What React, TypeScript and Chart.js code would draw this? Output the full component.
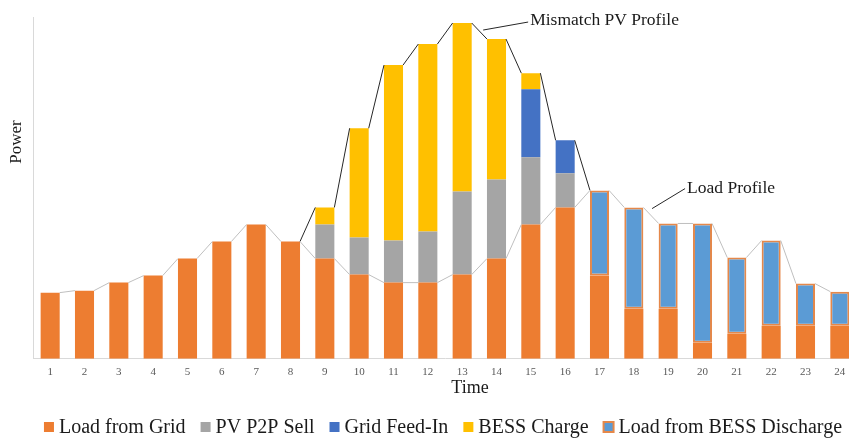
import React, { useEffect, useRef } from "react";
import { Chart, registerables } from "chart.js";

Chart.register(...registerables);

// ---------- data ----------
const categories = ["1","2","3","4","5","6","7","8","9","10","11","12","13","14","15","16","17","18","19","20","21","22","23","24"];

const loadFromGrid = [66, 68, 76, 83, 100, 117, 134, 117, 100, 84, 76, 76, 84, 100, 134, 151, 83, 50, 50, 16, 25, 33, 33, 33];
const pvP2PSell = [0, 0, 0, 0, 0, 0, 0, 0, 34, 37, 42, 51, 83, 79, 67, 34, 0, 0, 0, 0, 0, 0, 0, 0];
const gridFeedIn = [0, 0, 0, 0, 0, 0, 0, 0, 0, 0, 0, 0, 0, 0, 68, 33, 0, 0, 0, 0, 0, 0, 0, 0];
const bessCharge = [0, 0, 0, 0, 0, 0, 0, 0, 17, 109, 175, 187, 168, 140, 16, 0, 0, 0, 0, 0, 0, 0, 0, 0];
const loadFromBessDischarge = [0, 0, 0, 0, 0, 0, 0, 0, 0, 0, 0, 0, 0, 0, 0, 0, 85, 101, 85, 119, 76, 85, 42, 34];

const loadProfile = [66, 68, 76, 83, 100, 117, 134, 117, 100, 84, 76, 76, 84, 100, 134, 151, 168, 151, 135, 135, 101, 118, 75, 67];
const mismatchPvProfile = [null, null, null, null, null, null, null, 117, 151, 230, 293, 314, 335, 319, 285, 218, 168, null, null, null, null, null, null, null];

const seriesNames = ["Load from Grid", "PV P2P Sell", "Grid Feed-In", "BESS Charge", "Load from BESS Discharge"];
const xTitle = "Time";
const yTitle = "Power";
const pvLabel = "Mismatch PV Profile";
const loadLabel = "Load Profile";
const yMax = 341;

// ---------- styles ----------
const COLORS = {
  grid: "#ED7D31",
  sell: "#A5A5A5",
  feed: "#4472C4",
  charge: "#FFC000",
  discharge: "#5B9BD5",
  dischargeBorder: "#E5884A",
};
const BAR_PCT = 0.555;
const SERIF = "'Liberation Serif', 'Times New Roman', serif";

const nz = (arr: number[]) => arr.map((v) => (v === 0 ? null : v));

// Excel-like series lines: connect the right edge of bar i to the left edge of bar i+1
function seriesLinePoints(values: (number | null)[]) {
  const h = BAR_PCT / 2;
  const pts: { x: number; y: number | null }[] = [];
  values.forEach((v, i) => {
    if (v == null) return;
    const prev = i > 0 ? values[i - 1] : null;
    const next = i < values.length - 1 ? values[i + 1] : null;
    if (prev != null) pts.push({ x: i - h, y: v });
    pts.push({ x: i, y: null });
    if (next != null) pts.push({ x: i + h, y: v });
  });
  return pts;
}

const overlayPlugin = {
  id: "overlayText",
  afterDraw(chart: any) {
    const ctx = chart.ctx;
    const xl = chart.scales.xl;
    const y = chart.scales.y;
    const h = BAR_PCT / 2;
    ctx.save();

    // y axis title
    ctx.fillStyle = "#1a1a1a";
    ctx.font = `17px ${SERIF}`;
    ctx.save();
    ctx.translate(17, 142);
    ctx.rotate(-Math.PI / 2);
    ctx.textAlign = "center";
    ctx.textBaseline = "middle";
    ctx.fillText(yTitle, 0, 0);
    ctx.restore();

    // x axis title
    ctx.font = `18px ${SERIF}`;
    ctx.textAlign = "center";
    ctx.textBaseline = "alphabetic";
    ctx.fillText(xTitle, 470, 393);

    // annotation helper
    const along = (vals: (number | null)[], i: number, t: number) => {
      const x0 = xl.getPixelForValue(i + h);
      const x1 = xl.getPixelForValue(i + 1 - h);
      const y0 = y.getPixelForValue(vals[i] as number);
      const y1 = y.getPixelForValue(vals[i + 1] as number);
      return { x: x0 + (x1 - x0) * t, y: y0 + (y1 - y0) * t };
    };
    ctx.strokeStyle = "#262626";
    ctx.lineWidth = 1;
    ctx.font = `17.5px ${SERIF}`;
    ctx.textAlign = "left";

    const a = along(mismatchPvProfile, 12, 0.75);
    ctx.beginPath();
    ctx.moveTo(a.x, a.y - 5);
    ctx.lineTo(a.x + 45, a.y - 13);
    ctx.stroke();
    ctx.fillText(pvLabel, a.x + 47, a.y - 10);

    const b = along(loadProfile, 17, 0.57);
    ctx.beginPath();
    ctx.moveTo(b.x, b.y - 8);
    ctx.lineTo(b.x + 33, b.y - 28);
    ctx.stroke();
    ctx.fillText(loadLabel, b.x + 35, b.y - 24);

    // legend
    ctx.font = `20px ${SERIF}`;
    const box = 10, gapBox = 5, gapItem = 15;
    const items = chart.data.datasets.filter((d: any) => d.type === "bar");
    const widths = items.map((d: any) => box + gapBox + ctx.measureText(d.label).width);
    const total = widths.reduce((s: number, w: number) => s + w, 0) + gapItem * (items.length - 1);
    let cx = 443 - total / 2;
    const baseline = 433;
    items.forEach((d: any, i: number) => {
      const by = 422;
      if (d.borderWidth) {
        ctx.fillStyle = d.borderColor;
        ctx.fillRect(cx - 1, by - 1, box + 2, box + 2);
        ctx.fillStyle = d.backgroundColor;
        ctx.fillRect(cx + 1, by + 1, box - 2, box - 2);
      } else {
        ctx.fillStyle = d.backgroundColor;
        ctx.fillRect(cx, by, box, box);
      }
      ctx.fillStyle = "#1a1a1a";
      ctx.textAlign = "left";
      ctx.textBaseline = "alphabetic";
      ctx.fillText(d.label, cx + box + gapBox, baseline);
      cx += widths[i] + gapItem;
    });

    ctx.restore();
  },
};

export default function App() {
  const ref = useRef<HTMLCanvasElement | null>(null);

  useEffect(() => {
    if (!ref.current) return;
    const barCommon = {
      type: "bar" as const,
      xAxisID: "x",
      yAxisID: "y",
      stack: "energy",
      grouped: false,
      barPercentage: BAR_PCT,
      categoryPercentage: 1,
      order: 2,
    };
    const chart = new Chart(ref.current, {
      type: "bar",
      data: {
        labels: categories,
        datasets: [
          { ...barCommon, label: seriesNames[0], data: nz(loadFromGrid), backgroundColor: COLORS.grid },
          { ...barCommon, label: seriesNames[1], data: nz(pvP2PSell), backgroundColor: COLORS.sell },
          { ...barCommon, label: seriesNames[2], data: nz(gridFeedIn), backgroundColor: COLORS.feed },
          { ...barCommon, label: seriesNames[3], data: nz(bessCharge), backgroundColor: COLORS.charge },
          {
            ...barCommon,
            label: seriesNames[4],
            data: nz(loadFromBessDischarge),
            backgroundColor: COLORS.discharge,
            borderColor: COLORS.dischargeBorder,
            borderWidth: 2,
            borderSkipped: false,
          },
          {
            type: "line" as const,
            label: loadLabel,
            data: seriesLinePoints(loadProfile) as any,
            xAxisID: "xl",
            yAxisID: "y",
            stack: "load",
            borderColor: "#BFBFBF",
            borderWidth: 1,
            pointRadius: 0,
            fill: false,
            spanGaps: false,
            order: 1,
          },
          {
            type: "line" as const,
            label: pvLabel,
            data: seriesLinePoints(mismatchPvProfile) as any,
            xAxisID: "xl",
            yAxisID: "y",
            stack: "pv",
            borderColor: "#262626",
            borderWidth: 1,
            pointRadius: 0,
            fill: false,
            spanGaps: false,
            order: 1,
          },
        ] as any,
      },
      options: {
        responsive: false,
        animation: false,
        devicePixelRatio: 1,
        layout: { padding: { left: 33, right: 3, top: 17, bottom: 53 } },
        plugins: { legend: { display: false }, tooltip: { enabled: false } },
        scales: {
          x: {
            type: "category",
            stacked: true,
            offset: true,
            grid: { display: false, drawTicks: false },
            border: { display: true, color: "#D9D9D9", width: 1 },
            ticks: {
              color: "#595959",
              font: { family: SERIF, size: 11 },
              padding: 7,
              maxRotation: 0,
              autoSkip: false,
            },
          },
          xl: {
            type: "linear",
            display: false,
            offset: false,
            grid: { offset: false },
            min: -0.5,
            max: categories.length - 0.5,
          },
          y: {
            stacked: true,
            min: 0,
            max: yMax,
            grid: { display: false, drawTicks: false },
            border: { display: true, color: "#D9D9D9", width: 1 },
            ticks: { display: false },
          },
        },
      },
      plugins: [overlayPlugin],
    });
    return () => chart.destroy();
  }, []);

  return (
    <div
      style={{
        position: "absolute",
        left: 0,
        top: 0,
        width: 849,
        height: 439,
        overflow: "hidden",
        background: "#ffffff",
      }}
    >
      <canvas ref={ref} width={860} height={439} style={{ width: 860, height: 439, display: "block" }} />
    </div>
  );
}
